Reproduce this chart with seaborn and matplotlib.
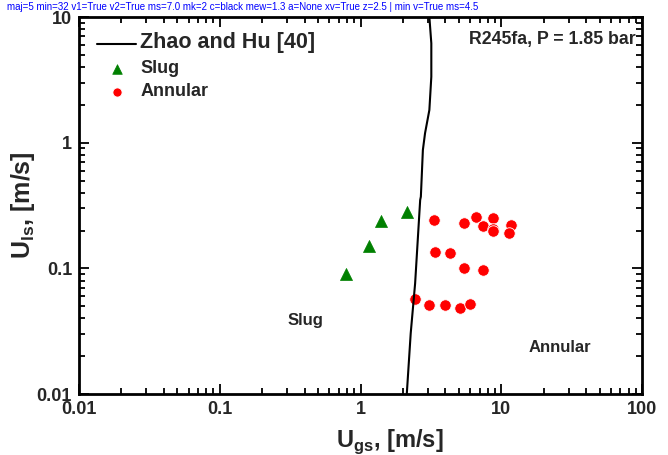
import numpy as np
import pandas as pd
import matplotlib
matplotlib.use("Agg")
import matplotlib.pyplot as plt
import seaborn as sns
from matplotlib.ticker import FixedLocator, FixedFormatter, NullFormatter

# ---- data ----
slug_ugs = [0.79, 1.15, 1.40, 2.14]
slug_uls = [0.090, 0.151, 0.238, 0.281]

annular_ugs = [3.33, 5.46, 6.65, 8.78, 7.38, 8.78, 8.78, 11.8, 11.3,
               3.38, 4.35, 5.41, 7.38,
               2.44, 3.05, 3.98, 5.09, 6.00]
annular_uls = [0.241, 0.231, 0.256, 0.252, 0.217, 0.207, 0.198, 0.221, 0.190,
               0.135, 0.133, 0.100, 0.0966,
               0.0574, 0.0508, 0.0511, 0.0482, 0.0524]

zhao_ugs = [2.13, 2.27, 2.44, 2.65, 2.68, 2.77, 2.87, 3.08, 3.18, 3.18, 3.08]
zhao_uls = [0.0101, 0.0304, 0.076, 0.350, 0.372, 0.875, 1.19, 1.82, 3.35, 6.18, 10.0]

x_ticks = [0.01, 0.1, 1, 10, 100]
x_ticklabels = ["0.01", "0.1", "1", "10", "100"]
y_ticks = [0.01, 0.1, 1, 10]
y_ticklabels = ["0.01", "0.1", "1", "10"]

sns.set_style("ticks")
plt.rcParams['font.family'] = ['Liberation Sans', 'DejaVu Sans']
plt.rcParams['mathtext.default'] = 'bf'
plt.rcParams['axes.axisbelow'] = False

fig = plt.figure(figsize=(6.68, 4.55), dpi=100)
ax = fig.add_axes([0.1183, 0.134, 0.843, 0.8286])

zhao = pd.DataFrame({"ugs": zhao_ugs, "uls": zhao_uls})
slug = pd.DataFrame({"ugs": slug_ugs, "uls": slug_uls})
ann = pd.DataFrame({"ugs": annular_ugs, "uls": annular_uls})

sns.lineplot(data=zhao, x="ugs", y="uls", sort=False, estimator=None, color="black",
             lw=1.5, ax=ax, label="Zhao and Hu [40]")
sns.scatterplot(data=slug, x="ugs", y="uls", marker="^", color="#008000", s=75,
                edgecolor="#008000", linewidth=0.5, ax=ax, label="Slug")
sns.scatterplot(data=ann, x="ugs", y="uls", marker="o", color="#ff0000", s=68,
                edgecolor="white", linewidth=0.6, ax=ax, label="Annular")

ax.set_xscale("log")
ax.set_yscale("log")
ax.set_xlim(0.01, 100)
ax.set_ylim(0.01, 10)

def minor_positions(lo_exp, hi_exp):
    return [m * 10.0 ** e for e in range(lo_exp, hi_exp) for m in range(2, 10)]

ax.xaxis.set_major_locator(FixedLocator(x_ticks))
ax.xaxis.set_major_formatter(FixedFormatter(x_ticklabels))
ax.yaxis.set_major_locator(FixedLocator(y_ticks))
ax.yaxis.set_major_formatter(FixedFormatter(y_ticklabels))
ax.xaxis.set_minor_locator(FixedLocator(minor_positions(-2, 2)))
ax.yaxis.set_minor_locator(FixedLocator(minor_positions(-2, 1)))
ax.xaxis.set_minor_formatter(NullFormatter())
ax.yaxis.set_minor_formatter(NullFormatter())

for sp in ax.spines.values():
    sp.set_color("black")
    sp.set_linewidth(2)

ax.set_xlabel(r"U$_{\mathregular{gs}}$, [m/s]", fontsize=17, fontweight="bold")
ax.set_ylabel(r"U$_{\mathregular{ls}}$, [m/s]", fontsize=18, fontweight="bold")
ax.xaxis.set_label_coords(0.552, -0.088)
ax.yaxis.set_label_coords(-0.0746, 0.5)

ax.text(0.404, 0.0385, "Slug", fontsize=12, fontweight="bold", ha="center", va="center")
ax.text(26.0, 0.0233, "Annular", fontsize=12, fontweight="bold", ha="center", va="center")
ax.text(0.988, 0.94, "R245fa, P = 1.85 bar", transform=ax.transAxes, fontsize=12.8,
        fontweight="bold", ha="right", va="center")

leg = ax.legend(loc="upper left", bbox_to_anchor=(0.015, 0.985), frameon=False,
                handlelength=2.8, handletextpad=0.3, labelspacing=0.45,
                borderaxespad=0.3, markerscale=0.8)
sizes = [15.5, 13, 13]
for t, fs in zip(leg.get_texts(), sizes):
    t.set_fontsize(fs)
    t.set_fontweight("bold")

ax.tick_params(which="both", direction="in", color="black", width=1.3,
               top=True, right=True, bottom=True, left=True)
ax.tick_params(which="major", length=7, labelsize=13, pad=5)
ax.tick_params(which="minor", length=4.5)
for lab in ax.get_xticklabels() + ax.get_yticklabels():
    lab.set_fontweight("bold")

fig.canvas.draw()
mt = ax.xaxis.get_major_ticks()
nt = ax.xaxis.get_minor_ticks()
t0 = mt[1]
t1 = nt[1] if nt else None
diag = (f"maj={len(mt)} min={len(nt)} v1={t0.tick1line.get_visible()} "
        f"v2={t0.tick2line.get_visible()} ms={t0.tick1line.get_markersize()} "
        f"mk={t0.tick1line.get_marker()} c={t0.tick1line.get_color()} "
        f"mew={t0.tick1line.get_markeredgewidth()} a={t0.tick1line.get_alpha()} "
        f"xv={ax.xaxis.get_visible()} z={ax.xaxis.get_zorder()}")
if t1 is not None:
    diag += f" | min v={t1.tick1line.get_visible()} ms={t1.tick1line.get_markersize()}"
fig.text(0.01, 0.995, diag, fontsize=7, va="top", ha="left", color="blue")

fig.savefig("out.png", dpi=100)
